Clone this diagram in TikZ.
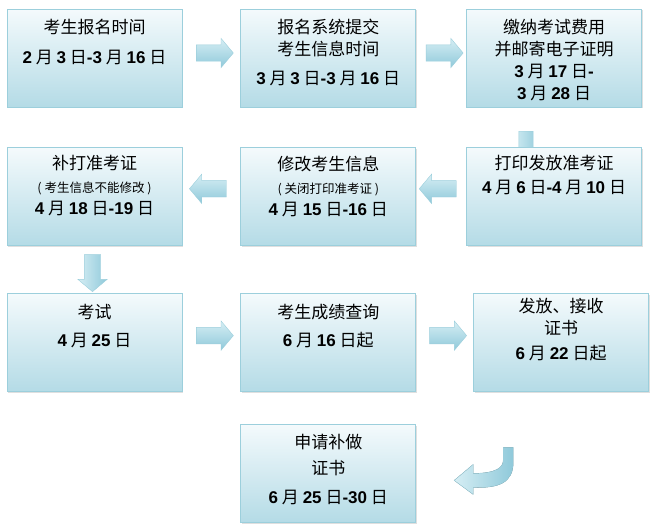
\documentclass[tikz,border=0pt]{standalone}
\usepackage{fontspec}
\setmainfont{Noto Sans CJK SC}
\newfontfamily\numfont{Liberation Sans}
\usetikzlibrary{positioning,calc,shadows,shapes.arrows}
\newcommand{\dg}[1]{{\numfont\bfseries #1}}
\newcommand{\sm}{\fontsize{12.5}{16}\selectfont}
\definecolor{boxtop}{HTML}{F4FAFC}
\definecolor{boxbot}{HTML}{B4DBE6}
\definecolor{boxline}{HTML}{9CCFDC}
\definecolor{arrtop}{HTML}{D6EEF4}
\definecolor{arrbot}{HTML}{8FC9DA}
\tikzset{
  box/.style={rectangle, draw=boxline, line width=0.8pt, top color=boxtop,
    bottom color=boxbot, minimum width=175pt, minimum height=98pt, inner sep=0pt,
    drop shadow={shadow xshift=1.2pt, shadow yshift=-1.2pt, opacity=0.25}},
  txt/.style={align=center, inner sep=0pt, font=\fontsize{17}{22}\selectfont},
  blockarr/.style={single arrow, draw=boxline, line width=0.4pt, top color=arrtop,
    bottom color=arrbot, minimum height=37pt, inner xsep=0pt, inner ysep=8pt,
    single arrow head extend=6.5pt, single arrow tip angle=100},
  downarr/.style={blockarr, left color=arrtop, right color=arrbot,
    shape border rotate=270, inner xsep=8pt, inner ysep=0pt},
}
\begin{document}
\begin{tikzpicture}[x=1pt,y=-1pt]
    \useasboundingbox (0,0) rectangle (652,530);
    \fill[white] (0,0) rectangle (652,530);

    % the stub from box 3, its head lies behind box 6
    \coordinate (stub) at (526,131);
    \node[downarr, inner xsep=7pt, minimum height=34pt, anchor=tail] (a36) at (stub) {};

    % boxes
    \node[box] (b1) at (94.5,58) {};
    \node[box, right=58pt of b1] (b2) {};
    \node[box, right=50pt of b2] (b3) {};
    \node[box, below=40pt of b1] (b4) {};
    \node[box, below=40pt of b2] (b5) {};
    \node[box, below=40pt of b3] (b6) {};
    \node[box, below=47pt of b4] (b7) {};
    \node[box, below=47pt of b5] (b8) {};
    \node[box, right=57pt of b8] (b9) {};
    \node[box, below=32pt of b8] (b10) {};

    % texts
    \node[txt, below=10.5pt of b1.north] (t1) {考生报名时间\\[8pt]\dg{2} 月 \dg{3} 日\dg{-3} 月 \dg{16} 日};
    \node[txt, below=10.5pt of b2.north] (t2) {报名系统提交\\考生信息时间\\[7pt]\dg{3} 月 \dg{3} 日\dg{-3} 月 \dg{16} 日};
    \node[txt, below=10.5pt of b3.north] (t3) {缴纳考试费用\\并邮寄电子证明\\\dg{3} 月 \dg{17} 日\dg{-}\\\dg{3} 月 \dg{28} 日};
    \node[txt, below=8pt of b4.north] (t4) {补打准考证\\[1pt]{\sm ( 考生信息不能修改 )}\\\dg{4} 月 \dg{18} 日\dg{-19} 日};
    \node[txt, below=8pt of b5.north] (t5) {修改考生信息\\[1pt]{\sm ( 关闭打印准考证 )}\\\dg{4} 月 \dg{15} 日\dg{-16} 日};
    \node[txt, below=8pt of b6.north] (t6) {打印发放准考证\\[2pt]\dg{4} 月 \dg{6} 日\dg{-4} 月 \dg{10} 日};
    \node[txt, below=10.5pt of b7.north] (t7) {考试\\[6pt]\dg{4} 月 \dg{25} 日};
    \node[txt, below=10.5pt of b8.north] (t8) {考生成绩查询\\[6pt]\dg{6} 月 \dg{16} 日起};
    \node[txt, below=5pt of b9.north] (t9) {发放、接收\\证书\\[3pt]\dg{6} 月 \dg{22} 日起};
    \node[txt, below=10pt of b10.north] (t10) {申请补做\\[4pt]证书\\[7pt]\dg{6} 月 \dg{25} 日\dg{-30} 日};

    % block arrows between the boxes
    \foreach \a/\b/\s in {b1/b2/5, b2/b3/5, b7/b8/7, b8/b9/7} {
        \node[blockarr, yshift=\s pt] (a-\a) at ($(\a.east)!0.5!(\b.west)$) {};
      }
    \foreach \a/\b in {b5/b4, b6/b5} {
        \node[blockarr, shape border rotate=180, yshift=8pt] (a-\a) at ($(\a.west)!0.5!(\b.east)$) {};
      }
    \node[downarr, xshift=-2pt] (a-b4) at ($(b4.south)!0.5!(b7.north)$) {};

    % the hook from box 9 back to box 10
    \begin{scope}[shift={(b10.east)}]
      \fill[left color=arrtop, right color=arrbot, draw=boxline, line width=0.4pt]
        (87,-26) -- (97,-26) -- (97,-11) .. controls (97,9) and (83,15) .. (57,14)
        -- (57,21) -- (38,7) -- (57,-9) -- (57,0)
        .. controls (80,0) and (87,-6) .. (87,-13) -- cycle;
    \end{scope}
\end{tikzpicture}
\end{document}
